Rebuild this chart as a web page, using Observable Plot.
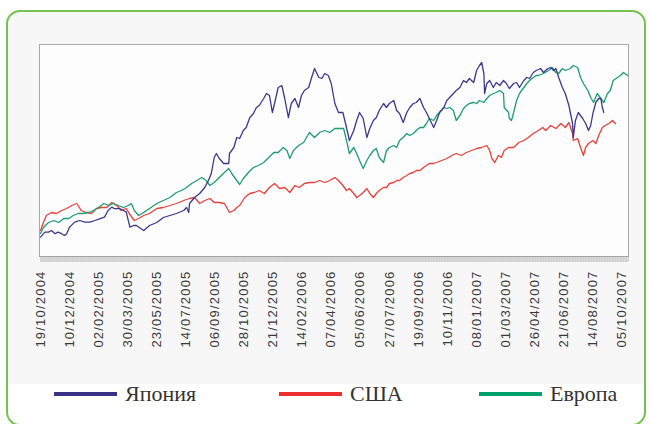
<!DOCTYPE html>
<html>
<head>
<meta charset="utf-8">
<script src="https://cdn.jsdelivr.net/npm/d3@7"></script>
<script src="https://cdn.jsdelivr.net/npm/@observablehq/plot@0.6"></script>
<style>
  html, body { margin: 0; padding: 0; background: #fff; }
  body { width: 650px; height: 424px; overflow: hidden; position: relative; font-family: "Liberation Sans", Arial, sans-serif; }
  #box { position: absolute; left: 6px; top: 10px; width: 640px; height: 416px; box-sizing: border-box;
         border: 2.5px solid #74c24f; border-radius: 14px;
         background: linear-gradient(#f7f7f7 0, #f7f7f7 372px, #fff 372px); }
  #chart { position: absolute; left: 0; top: 0; }
  #chart g[aria-label="text"] text { letter-spacing: 1.2px; }
  .lg { position: absolute; top: 380px; height: 28px; display: flex; align-items: center; }
  .lg .sw { width: 63px; height: 4px; margin-right: 8px; }
  .lg .tx { font-family: "Liberation Serif", "DejaVu Serif", serif; font-size: 22px; color: #333; }
</style>
</head>
<body>
<div id="box"></div>
<div id="chart"></div>
<div id="legend"></div>
<script>
// Trading-day index, value (index level)
const japan = [[0,100.2],[6,102.7],[11,102.7],[15,103.5],[20,101.9],[24,102.7],[29,101.9],[33,101],[36,101.9],[40,105.2],[47,107.7],[54,108.5],[61,107.7],[68,107.7],[75,108.5],[82,109.4],[88,110.2],[93,113.5],[98,115.2],[102,114.4],[109,114.4],[114,113.5],[118,112.7],[123,105.2],[128,106],[132,106],[142,103.5],[150,106],[160,107.5],[169,110],[178,111],[187,112],[197,113.5],[201,115],[204,112.5],[205,117],[212,120],[219,122],[226,125],[231,128.5],[235,132],[239,140],[242,142],[246,139.5],[252,137],[259,137],[260,142],[266,145],[270,150],[274,149.5],[279,153.5],[283,155],[288,160],[293,162],[297,165],[301,166],[307,169.5],[311,172],[315,171],[319,162.5],[322,167],[327,175],[332,176],[336,169.5],[341,160],[345,167],[350,169.5],[355,165],[359,171],[363,173.5],[369,175],[373,180],[377,184.5],[383,180],[387,179.5],[391,182],[396,181],[400,177],[405,167],[410,162.5],[416,162.5],[421,155],[425,148.5],[431,153.5],[435,158.5],[439,162.5],[444,159.5],[449,150],[453,154.5],[458,158.5],[462,160],[466,163.5],[472,167],[476,165],[480,167],[486,168.5],[490,163.5],[494,162],[499,157.5],[504,162.5],[508,165],[513,167],[517,167.5],[522,169.5],[527,165],[531,162.5],[535,159.5],[541,155],[545,158.5],[549,162.5],[555,165],[559,168.5],[563,170],[568,172],[572,173.5],[577,175],[582,178.5],[586,177.5],[590,179.5],[596,177.5],[600,183.5],[604,186],[607,187.5],[610,182],[611,172],[614,177],[618,178.5],[623,175],[627,177.5],[632,176],[637,178.5],[641,177],[645,174.5],[651,177],[655,177.5],[659,175],[665,178.5],[669,180],[673,179.5],[678,182.5],[682,183.5],[688,184.5],[692,182.5],[698,184.5],[702,185],[706,183.5],[709,184.5],[713,180],[718,175],[722,172],[727,166],[732,157],[733,150],[736,158.5],[740,162.5],[746,159.5],[750,157],[754,153.5],[757,156],[760,162],[764,167.5],[768,169.5],[771,169.5],[773,165],[775,162.5]];

const usa = [[0,103.5],[4,107.5],[8,111],[15,112.5],[22,112],[29,113.5],[36,114.5],[43,116],[50,117],[56,113.5],[63,112.5],[70,112],[77,114.5],[84,115],[91,115],[98,117.5],[105,116],[111,113.5],[118,114.5],[122,112],[129,108.5],[135,109.5],[142,111],[150,112],[160,114.5],[169,115],[178,116],[187,117],[197,118.5],[205,119.5],[212,120],[219,117],[226,118.5],[233,119.5],[239,117.5],[246,117.5],[253,117],[260,112.5],[266,113.5],[270,115],[274,116],[281,120],[288,122],[294,122.5],[301,123.5],[308,122],[315,125],[322,127],[329,124.5],[336,125],[343,122.5],[350,126],[356,125],[363,127],[370,127.5],[377,127.5],[384,128.5],[391,127.5],[398,128.5],[405,130],[410,128.5],[416,126],[421,123.5],[425,124.5],[431,122],[435,120],[439,121],[444,122.5],[449,124.5],[453,122],[458,120],[462,122],[466,123.5],[472,125],[476,125],[480,127],[486,127.5],[490,128.5],[494,128.5],[499,130],[504,131],[508,132],[513,132.5],[517,133.5],[522,133.5],[527,135],[531,136],[535,137],[541,137],[545,137.5],[552,138.5],[559,139.5],[566,141],[572,142],[579,141],[586,142.5],[593,143.5],[600,144.5],[607,145],[614,146],[618,143.5],[621,139.5],[625,137.5],[630,141],[634,140],[638,143.5],[644,145],[651,145],[658,147.5],[665,148.5],[671,150],[678,152],[685,153.5],[691,155],[695,153.5],[702,156],[709,154.5],[716,157],[722,155],[727,157.5],[732,152],[733,148.5],[739,149.5],[743,145],[747,141],[750,145],[754,147],[760,148.5],[764,147],[768,151],[773,155],[777,156],[782,157],[787,158.5],[791,157]];

const europe = [[0,102],[4,105],[11,107.5],[18,108.5],[25,107.5],[32,109.5],[39,109.5],[45,111],[52,112],[59,112],[66,112.5],[73,113.5],[80,115],[87,117],[94,116],[100,117],[107,116],[114,115],[121,116],[125,117],[129,113.5],[135,111],[140,112],[150,114.5],[160,117],[169,118.5],[178,120],[187,122.5],[194,123.5],[201,125],[208,127],[215,128.5],[222,130],[228,128.5],[233,126],[239,127.5],[246,130],[253,132.5],[259,134.5],[263,132],[267,130],[272,127.5],[274,126.5],[279,129.5],[286,132.5],[293,135],[300,136],[307,137.5],[314,140],[321,142.5],[327,142.5],[334,145],[339,143.5],[343,139.5],[348,143.5],[355,146],[362,147.5],[366,150],[370,152.5],[377,150],[384,152.5],[391,153.5],[398,152.5],[405,154.5],[410,154.5],[417,154.5],[421,148.5],[425,142],[431,145],[435,142],[439,138.5],[444,134.5],[449,138.5],[453,141],[458,143.5],[462,144.5],[466,140],[472,137.5],[476,143.5],[480,145],[486,146],[490,145],[494,148.5],[499,150],[504,152],[508,151],[513,152],[517,153.5],[522,155],[527,155],[531,157],[535,159.5],[541,158.5],[545,161],[549,162.5],[555,165],[559,164.5],[563,165],[568,163.5],[572,158.5],[577,161],[582,164.5],[586,166],[590,167],[596,167.5],[600,167],[604,168.5],[610,167.5],[614,169.5],[618,171],[623,172],[627,172.5],[632,173.5],[637,172],[638,165],[644,162.5],[645,159.5],[648,158.5],[651,162.5],[655,168.5],[659,172],[665,175],[669,177],[673,178.5],[678,180],[682,181],[685,181],[692,182],[699,183.5],[704,185],[709,182.5],[713,182],[718,184.5],[722,183.5],[729,184.5],[733,186],[739,185],[743,180],[747,177],[753,173.5],[757,170],[761,167.5],[766,172],[771,169.5],[775,167.5],[780,172],[784,173.5],[788,178.5],[794,180],[798,181],[802,182.5],[808,181]];

const dateLabels = ["19/10/2004","10/12/2004","02/02/2005","30/03/2005","23/05/2005","14/07/2005","06/09/2005","28/10/2005","21/12/2005","14/02/2006","07/04/2006","05/06/2006","27/07/2006","19/09/2006","10/11/2006","08/01/2007","01/03/2007","26/04/2007","21/06/2007","14/08/2007","05/10/2007"];
const labelStep = 40; // trading days between labels

const seriesNames = ["Япония", "США", "Европа"];
const seriesColors = ["#3c3889", "#e8403a", "#1d9d70"];
const legendColors = ["#393185", "#ee2f2f", "#00a06a"];

const labelData = dateLabels.map((label, i) => ({day: i * labelStep, label}));
const lastDay = 809;

const chart = Plot.plot({
  width: 650,
  height: 360,
  marginLeft: 39,
  marginRight: 22,
  marginTop: 44,
  marginBottom: 104,
  style: {background: "transparent"},
  x: {domain: [-1.4, lastDay], axis: null, label: null},
  y: {domain: [90.5, 196.5], axis: null},
  marks: [
    Plot.frame({fill: "#fdfdfd", stroke: "#a9a9a9"}),
    Plot.axisX(d3.range(0, lastDay + 1), {tickSize: 6, tickFormat: () => "", label: null, stroke: "#9a9a9a", strokeOpacity: 0.3}),
    Plot.text(labelData, {x: "day", text: "label", frameAnchor: "bottom", dy: 14, rotate: -90, textAnchor: "end", lineAnchor: "middle", fontSize: 13, fill: "#3a3a3a", fontFamily: "Liberation Sans, Arial, sans-serif"}),
    Plot.line(usa, {x: d => d[0], y: d => d[1], stroke: seriesColors[1], strokeWidth: 1.3}),
    Plot.line(europe, {x: d => d[0], y: d => d[1], stroke: seriesColors[2], strokeWidth: 1.3}),
    Plot.line(japan, {x: d => d[0], y: d => d[1], stroke: seriesColors[0], strokeWidth: 1.3})
  ]
});
document.getElementById("chart").appendChild(chart);

// Legend
const legendX = [54, 279, 479];
const legend = document.getElementById("legend");
seriesNames.forEach((name, i) => {
  const item = document.createElement("div");
  item.className = "lg";
  item.style.left = legendX[i] + "px";
  const sw = document.createElement("div");
  sw.className = "sw";
  sw.style.background = legendColors[i];
  const tx = document.createElement("span");
  tx.className = "tx";
  tx.textContent = name;
  item.appendChild(sw);
  item.appendChild(tx);
  legend.appendChild(item);
});
</script>
</body>
</html>
